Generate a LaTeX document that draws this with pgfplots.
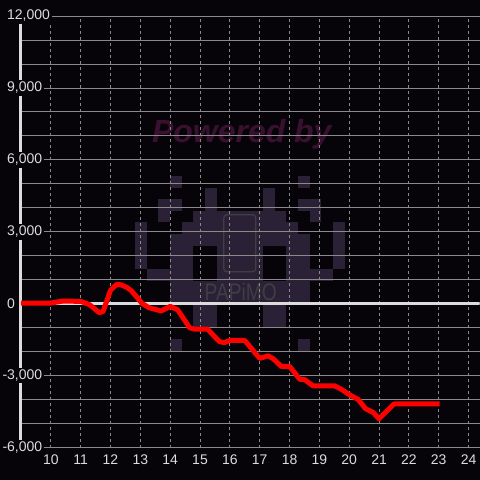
\documentclass[border=0pt]{standalone}
\usepackage{fontspec}
\setmainfont{Liberation Sans}
\usepackage{pgfplots}
\pgfplotsset{compat=1.18}
\definecolor{bg}{HTML}{060408}
\definecolor{gridc}{HTML}{8A8A8A}
\definecolor{tickc}{HTML}{DCDCDC}
\definecolor{logo}{HTML}{2A2136}
\definecolor{wm}{HTML}{3A1030}
\definecolor{phone}{HTML}{3E3E44}
\newcommand\blk[4]{\fill[logo] ({135+#1*11.67},{176+#2*11.67}) rectangle ++({#3*11.67},{#4*11.67});}

\begin{document}
\begin{tikzpicture}
% background and watermark, in pixel coordinates of the 480x480 frame
\begin{scope}[x=1bp,y=-1bp,shift={(-21bp,448bp)}]
\fill[bg] (0,0) rectangle (480,480);
\node[wm,font=\fontsize{32bp}{34bp}\selectfont\bfseries\itshape] at (242,134) {Powered by};
\blk{3}{0}{1}{1} \blk{14}{0}{1}{1}
\blk{6}{1}{1}{2} \blk{11}{1}{1}{2}
\blk{2}{2}{2}{1} \blk{14}{2}{2}{1}
\blk{2}{3}{1}{1} \blk{15}{3}{1}{1} \blk{5}{3}{8}{1}
\blk{0}{4}{1}{4} \blk{17}{4}{1}{4} \blk{4}{4}{10}{1}
\blk{3}{5}{12}{1}
\blk{3}{6}{2}{2} \blk{7}{6}{4}{2} \blk{13}{6}{2}{2}
\blk{1}{8}{4}{1} \blk{7}{8}{4}{1} \blk{13}{8}{4}{1}
\blk{3}{9}{12}{2}
\blk{5}{11}{2}{2} \blk{11}{11}{2}{2}
\blk{3}{14}{1}{1} \blk{14}{14}{1}{1}
\draw[phone,line width=1.2bp,rounded corners=3bp] (224,215) rectangle (256,272);
\node[phone,font=\fontsize{24bp}{26bp}\selectfont,xscale=0.8] at (241,292) {PAPiMO};
\end{scope}
\begin{axis}[
  anchor=south west, at={(0,0)},
  scale only axis, width=459bp, height=432bp,
  xmin=9, xmax=24.37, ymin=-6000, ymax=12000,
  axis x line=bottom, axis y line=left,
  axis line style={-},
  x axis line style={gridc,line width=0.8bp},
  y axis line style={tickc,line width=3bp},
  xtick={10,...,24},
  ytick={-6000,-3000,...,12000},
  scaled y ticks=false,
  yticklabels={{\llap{-}6,000},{\llap{-}3,000},{0},{3,000},{6,000},{9,000},{12,000}},
  minor y tick num=2,
  major tick length=0pt, minor tick length=0pt,
  xmajorgrids, ymajorgrids, yminorgrids,
  x grid style={gridc,line width=0.8bp,dash pattern=on 3bp off 3bp},
  y grid style={gridc,line width=0.8bp},
  /pgf/number format/assume math mode=true,
  tick label style={font=\fontsize{14bp}{16bp}\selectfont,text=tickc},
  xticklabel style={anchor=center,yshift=-12.5bp},
  yticklabel style={anchor=west,xshift=-16bp,fill=bg,inner sep=2bp},
]
% zero line
\draw[tickc,line width=3bp] (axis cs:9,0) -- (axis cs:24.37,0);
\addplot[red,line width=5bp,line join=round,no markers] coordinates {
(9.0,30) (10.0,30) (10.4,110) (11.0,100) (11.3,-40) (11.62,-370) (11.75,-330)
(12.0,560) (12.2,800) (12.35,790) (12.55,680) (12.7,540) (12.9,250) (13.05,20)
(13.3,-170) (13.7,-300) (14.0,-110) (14.25,-250) (14.65,-1000) (14.8,-1055)
(15.25,-1055) (15.65,-1580) (15.82,-1620) (16.0,-1530) (16.5,-1530)
(17.0,-2280) (17.28,-2170) (17.45,-2290) (17.72,-2610) (18.0,-2610)
(18.34,-3150) (18.5,-3160) (18.78,-3420) (19.5,-3420) (19.73,-3560)
(20.0,-3790) (20.3,-3990) (20.55,-4380) (20.8,-4530) (21.0,-4800)
(21.5,-4180) (23.03,-4180)
};
\end{axis}
\end{tikzpicture}
\end{document}
